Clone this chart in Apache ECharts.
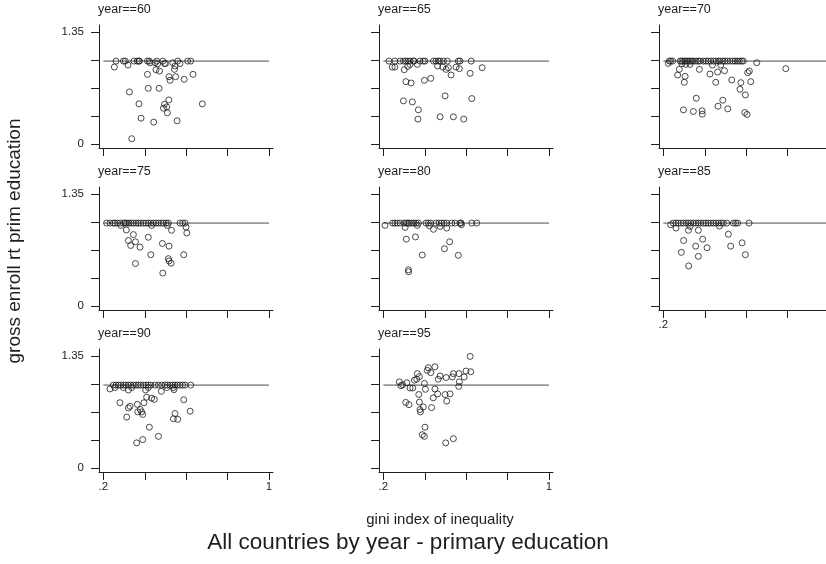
<!DOCTYPE html>
<html><head><meta charset="utf-8">
<script src="https://cdn.jsdelivr.net/npm/echarts@6/dist/echarts.min.js"></script>
<style>html,body{margin:0;padding:0;background:#fff}#c{width:826px;height:564px}</style>
</head><body><div id="c"></div>
<script>
const years = ['60','65','70','75','80','85','90','95'];

const gini60 = [0.261,0.297,0.306,0.348,0.364,0.371,0.374,0.413,0.422,0.458,0.487,0.559,0.607,0.622,
  0.425,0.450,0.495,0.500,0.535,0.570,
  0.253,0.319,0.462,0.454,0.471,0.413,0.543,0.546,0.517,0.522,0.549,0.590,0.633,0.326,0.417,0.469,0.372,0.516,0.495,0.506,0.490,0.509,0.382,0.443,0.556,0.678,0.337];
const enroll60 = [1,1,1,1,1,1,1,1,1,1,1,1,1,1,
  0.98,0.98,0.97,0.97,0.98,0.97,
  0.928,0.952,0.968,0.896,0.88,0.84,0.90,0.94,0.812,0.768,0.812,0.78,0.84,0.628,0.672,0.672,0.484,0.532,0.48,0.448,0.432,0.376,0.312,0.264,0.28,0.484,0.064];

const gini65 = [0.227,0.256,0.281,0.297,0.308,0.318,0.329,0.345,0.348,0.377,0.393,0.401,0.442,0.454,0.466,0.474,0.490,0.509,0.562,0.570,0.624,
  0.243,0.256,0.301,0.318,0.329,0.364,0.462,0.487,0.503,0.514,0.551,0.567,0.527,0.619,0.677,0.309,0.334,0.398,0.429,0.498,0.627,0.297,0.340,0.369,0.367,0.474,0.538,0.588];
const enroll65 = [1,1,1,1,1,1,1,1,1,1,1,1,1,1,1,1,1,1,1,1,1,
  0.928,0.928,0.896,0.936,0.96,0.96,0.94,0.928,0.90,0.92,0.928,0.908,0.832,0.852,0.92,0.752,0.736,0.768,0.792,0.58,0.548,0.52,0.508,0.412,0.30,0.328,0.328,0.30];

const gini70 = [0.229,0.235,0.245,0.281,0.289,0.297,0.305,0.313,0.321,0.329,0.337,0.345,0.358,0.369,0.377,0.393,0.406,0.417,0.429,0.442,0.454,0.466,0.474,0.487,0.498,0.509,0.522,0.535,0.546,0.557,0.567,0.578,0.586,
  0.224,0.289,0.308,0.329,0.437,0.477,0.651,
  0.277,0.269,0.305,0.301,0.374,0.425,0.462,0.495,0.453,0.530,0.574,0.570,0.596,0.607,0.615,0.622,0.791,0.359,0.487,0.464,0.511,0.297,0.345,0.387,0.388,0.593,0.604];
const enroll70 = [1,1,1,1,1,1,1,1,1,1,1,1,1,1,1,1,1,1,1,1,1,1,1,1,1,1,1,1,1,1,1,1,1,
  0.972,0.968,0.96,0.96,0.952,0.952,0.98,
  0.90,0.832,0.816,0.744,0.90,0.844,0.868,0.884,0.744,0.772,0.74,0.66,0.592,0.86,0.88,0.752,0.908,0.552,0.528,0.456,0.424,0.412,0.392,0.40,0.36,0.38,0.356];

const gini75 = [0.216,0.232,0.248,0.256,0.268,0.281,0.297,0.305,0.313,0.324,0.334,0.345,0.358,0.369,0.380,0.393,0.406,0.417,0.429,0.442,0.454,0.466,0.479,0.490,0.503,0.514,0.570,0.583,0.595,
  0.284,0.433,0.509,0.599,
  0.311,0.345,0.321,0.355,0.332,0.377,0.417,0.529,0.603,0.485,0.517,0.429,0.588,0.514,0.517,0.527,0.355,0.487];
const enroll75 = [1,1,1,1,1,1,1,1,1,1,1,1,1,1,1,1,1,1,1,1,1,1,1,1,1,1,1,1,1,
  0.972,0.972,0.972,0.952,
  0.917,0.861,0.79,0.774,0.73,0.71,0.829,0.913,0.881,0.754,0.722,0.619,0.619,0.571,0.544,0.516,0.512,0.397];

const gini80 = [0.245,0.256,0.268,0.281,0.300,0.310,0.318,0.326,0.337,0.348,0.358,0.369,0.406,0.417,0.429,0.454,0.469,0.482,0.493,0.506,0.530,0.546,0.570,0.575,0.627,0.651,
  0.208,0.305,0.364,0.422,0.442,0.474,0.506,0.577,
  0.311,0.355,0.520,0.495,0.388,0.562,0.321,0.322];
const enroll80 = [1,1,1,1,1,1,1,1,1,1,1,1,1,1,1,1,1,1,1,1,1,1,1,1,1,1,
  0.972,0.948,0.972,0.968,0.925,0.96,0.94,0.98,
  0.806,0.833,0.774,0.69,0.615,0.611,0.437,0.413];

const gini85 = [0.248,0.261,0.272,0.285,0.297,0.310,0.321,0.332,0.345,0.358,0.369,0.380,0.393,0.406,0.417,0.429,0.442,0.454,0.466,0.479,0.490,0.506,0.538,0.549,0.559,0.614,
  0.235,0.261,0.321,0.369,0.471,0.329,
  0.514,0.298,0.390,0.580,0.356,0.411,0.525,0.287,0.369,0.596,0.322];
const enroll85 = [1,1,1,1,1,1,1,1,1,1,1,1,1,1,1,1,1,1,1,1,1,1,1,1,1,1,
  0.98,0.94,0.913,0.913,0.964,0.96,
  0.865,0.79,0.806,0.762,0.722,0.702,0.722,0.647,0.599,0.619,0.484];

const gini90 = [0.248,0.261,0.272,0.284,0.297,0.308,0.321,0.332,0.345,0.358,0.369,0.380,0.393,0.406,0.417,0.429,0.450,0.466,0.482,0.498,0.509,0.522,0.535,0.546,0.557,0.570,0.583,0.595,0.622,
  0.256,0.297,0.337,0.417,0.506,0.538,
  0.232,0.321,0.404,0.480,0.541,0.409,0.433,0.446,0.588,0.280,0.396,0.364,0.329,0.321,0.378,0.385,0.366,0.390,0.619,0.546,0.313,0.538,0.559,0.422,0.466,0.390,0.361];
const enroll90 = [1,1,1,1,1,1,1,1,1,1,1,1,1,1,1,1,1,1,1,1,1,1,1,1,1,1,1,1,1,
  0.97,0.97,0.97,0.97,0.97,0.97,
  0.953,0.941,0.941,0.925,0.945,0.854,0.843,0.827,0.823,0.787,0.787,0.768,0.744,0.724,0.705,0.677,0.677,0.646,0.685,0.657,0.614,0.594,0.587,0.492,0.382,0.343,0.303];

const gini95 = [0.277,0.285,0.293,0.313,0.329,0.342,0.308,0.324,0.350,0.361,0.364,0.374,0.371,0.374,0.377,0.379,0.393,0.398,0.403,0.412,0.417,0.429,0.449,0.433,0.441,0.449,0.462,0.465,0.474,0.498,0.506,0.503,0.522,0.533,0.538,0.565,0.567,0.564,0.590,0.599,0.622,0.619,0.401,0.388,0.398,0.501,0.538];
const enroll95 = [1.039,0.992,1.004,1.028,0.965,0.965,0.791,0.764,1.059,1.071,1.138,1.102,0.886,0.795,0.705,0.677,0.736,1.020,0.949,1.177,1.209,1.150,1.220,0.728,0.846,0.953,0.894,1.071,1.110,0.886,0.807,1.091,0.894,1.098,1.138,1.138,1.039,0.984,1.098,1.169,1.161,1.346,0.492,0.402,0.382,0.303,0.354];

const yTicks = [0, 0.3375, 0.675, 1.0125, 1.35];
const yTickLabels = [0, 1.35];
const xTicks = [0.2, 0.4, 0.6, 0.8, 1];
const xTickLabels = [0.2, 1];
const refLine = 1;
const panelTitles = years.map(y => 'year==' + y);
const xTitle = 'gini index of inequality';
const yTitle = 'gross enroll rt prim education';
const mainTitle = 'All countries by year - primary education';

const giniByYear = [gini60, gini65, gini70, gini75, gini80, gini85, gini90, gini95];
const enrollByYear = [enroll60, enroll65, enroll70, enroll75, enroll80, enroll85, enroll90, enroll95];

const FONT = '"Liberation Sans", Arial, Helvetica, sans-serif';
const INK = '#1e1e1e';
const colLeft = [99, 379, 659];
const rowTop = [25, 187, 349];
const GW = 174, GH = 123;

const grids = [], xAxes = [], yAxes = [], series = [], titles = [];
years.forEach((yr, i) => {
  const c = i % 3, r = Math.floor(i / 3);
  grids.push({left: colLeft[c], top: rowTop[r], width: GW, height: GH, containLabel: false, outerBoundsMode: 'none'});
  const showX = (i >= 5);
  const showY = (c === 0);
  xAxes.push({
    gridIndex: i, type: 'value', min: 0.179, max: 1.019,
    axisLine: {show: true, onZero: false, lineStyle: {color: INK, width: 1}},
    axisTick: {show: true, length: 8, customValues: xTicks, lineStyle: {color: INK, width: 1}},
    axisLabel: {show: showX, customValues: xTickLabels, margin: 9, fontSize: 11.5, color: INK, fontFamily: FONT,
      hideOverlap: false, formatter: v => String(v).replace(/^0\./, '.')},
    splitLine: {show: false}
  });
  yAxes.push({
    gridIndex: i, type: 'value', min: -0.048, max: 1.435,
    axisLine: {show: true, onZero: false, lineStyle: {color: INK, width: 1}},
    axisTick: {show: true, length: 8, customValues: yTicks, lineStyle: {color: INK, width: 1}},
    axisLabel: {show: showY, customValues: yTickLabels, margin: 15, fontSize: 11.5, color: INK, fontFamily: FONT,
      formatter: v => String(v)},
    splitLine: {show: false}
  });
  series.push({
    type: 'line', xAxisIndex: i, yAxisIndex: i, silent: true, symbol: 'none', z: 1,
    lineStyle: {color: '#4a4a4a', width: 1},
    data: [[xTicks[0], refLine], [xTicks[xTicks.length - 1], refLine]]
  });
  series.push({
    type: 'scatter', xAxisIndex: i, yAxisIndex: i, symbol: 'circle', symbolSize: 6, z: 2,
    itemStyle: {color: 'rgba(255,255,255,0)', borderColor: INK, borderWidth: 1},
    data: giniByYear[i].map((g, k) => [g, enrollByYear[i][k]])
  });
  titles.push({
    text: panelTitles[i], left: colLeft[c] - 1, top: rowTop[r] - 22, padding: 0,
    textStyle: {fontSize: 12.5, fontWeight: 'normal', color: INK, fontFamily: FONT}
  });
});

const chart = echarts.init(document.getElementById('c'), null, {renderer: 'canvas'});
chart.setOption({
  animation: false,
  backgroundColor: '#fff',
  title: titles,
  grid: grids,
  xAxis: xAxes,
  yAxis: yAxes,
  series: series,
  graphic: [
    {type: 'text', x: 15, y: 241, rotation: Math.PI / 2,
      style: {text: yTitle, fontSize: 19, fontFamily: FONT, fill: INK, textAlign: 'center', textVerticalAlign: 'middle'}},
    {type: 'text', x: 440, y: 520,
      style: {text: xTitle, fontSize: 15, fontFamily: FONT, fill: INK, textAlign: 'center', textVerticalAlign: 'middle'}},
    {type: 'text', x: 408, y: 543,
      style: {text: mainTitle, fontSize: 22.5, fontFamily: FONT, fill: INK, textAlign: 'center', textVerticalAlign: 'middle'}}
  ]
});
</script></body></html>
